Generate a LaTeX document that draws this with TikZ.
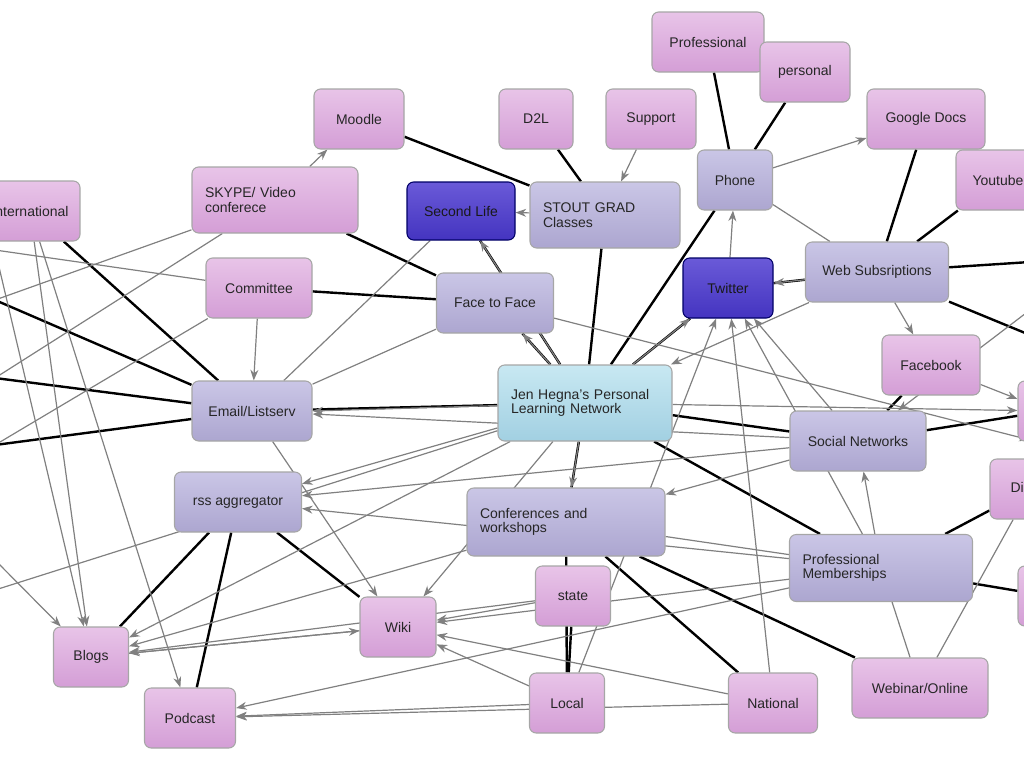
\documentclass[tikz,border=0pt]{standalone}
\usepackage{fontspec}
\setmainfont{Liberation Sans}
\usetikzlibrary{arrows.meta,backgrounds}
\definecolor{pkT}{HTML}{E8C4E8}\definecolor{pkB}{HTML}{D49ED6}
\definecolor{pvT}{HTML}{CAC6E6}\definecolor{pvB}{HTML}{ACA6D0}
\definecolor{dbT}{HTML}{6A5AD8}\definecolor{dbB}{HTML}{4434C0}
\definecolor{lbT}{HTML}{C8E8F2}\definecolor{lbB}{HTML}{A2D0E2}
\begin{document}
\begin{tikzpicture}[x=0.75pt,y=-0.75pt,
 bx/.style={rounded corners=5pt,draw=black!35,line width=0.8pt,font=\fontsize{10.5}{11}\selectfont,inner sep=3pt,text=black!85},
 sz/.style 2 args={minimum width=#1*0.75pt,minimum height=#2*0.75pt},
 pk/.style={bx,top color=pkT,bottom color=pkB},
 pv/.style={bx,top color=pvT,bottom color=pvB},
 db/.style={bx,top color=dbT,bottom color=dbB,draw=blue!40!black,text=black!90},
 lb/.style={bx,top color=lbT,bottom color=lbB},
 lt/.style={align=left,text width=#1*0.75pt},
 blk/.style={line width=1.8pt,black},
 ga/.style={gray,line width=0.9pt,-{Stealth[length=8pt,width=6pt]}},
 gl/.style={gray,line width=0.9pt}]
\useasboundingbox (0,0) rectangle (1024,768);
\clip (0,0) rectangle (1024,768);
\node[pk,sz={100}{60}] (intl) at (30,211) {International};
\node[pk,sz={90}{60}] (moodle) at (359,119) {Moodle};
\node[pk,sz={74}{60}] (d2l) at (536,119) {D2L};
\node[pk,sz={90}{60}] (support) at (651,119) {Support};
\node[pk,sz={112}{60}] (prof) at (708,42) {Professional};
\node[pk,sz={90}{60}] (pers) at (805,72) {personal};
\node[pk,sz={118}{60}] (gdocs) at (926,119) {Google Docs};
\node[pv,sz={75}{60}] (phone) at (735,180) {Phone};
\node[pk,sz={84}{60}] (yt) at (998,180) {Youtube};
\node[pk,sz={166}{66},lt=140] (skype) at (275,200) {SKYPE/ Video\\conferece};
\node[db,sz={108}{58}] (sl) at (461,211) {Second Life};
\node[pv,sz={150}{66},lt=124] (stout) at (605,215) {STOUT GRAD\\Classes};
\node[pk,sz={106}{60}] (comm) at (259,288) {Committee};
\node[pv,sz={117}{60}] (f2f) at (495,303) {Face to Face};
\node[db,sz={90}{60}] (tw) at (728,288) {Twitter};
\node[pv,sz={143}{60}] (web) at (877,272) {Web Subsriptions};
\node[pk,sz={98}{60}] (fb) at (931,365) {Facebook};
\node[lb,sz={174}{76},lt=148] (jen) at (585,403) {Jen Hegna's Personal\\Learning Network};
\node[pv,sz={120}{60}] (email) at (252,411) {Email/Listserv};
\node[pv,sz={136}{60}] (sn) at (858,441) {Social Networks};
\node[pk,sz={60}{60}] (r1) at (1048,411) {};
\node[pk,sz={80}{60}] (dig) at (1030,489) {Digital};
\node[pv,sz={127}{60}] (rss) at (238,502) {rss aggregator};
\node[pv,sz={198}{68},lt=172] (conf) at (566,522) {Conferences and\\workshops};
\node[pv,sz={183}{67},lt=157] (pm) at (881,568) {Professional\\Memberships};
\node[pk,sz={60}{60}] (r2) at (1048,596) {};
\node[pk,sz={75}{60}] (state) at (573,596) {state};
\node[pk,sz={76}{60}] (wiki) at (398,627) {Wiki};
\node[pk,sz={75}{60}] (blogs) at (91,657) {Blogs};
\node[pk,sz={91}{60}] (pod) at (190,718) {Podcast};
\node[pk,sz={75}{60}] (local) at (567,703) {Local};
\node[pk,sz={89}{60}] (nat) at (773,703) {National};
\node[pk,sz={136}{60}] (web2) at (920,688) {Webinar/Online};
\coordinate (L1) at (-5,300); \coordinate (L2) at (-5,378);
\coordinate (L3) at (-5,445); \coordinate (L4) at (-5,250);
\coordinate (L5) at (-5,560); \coordinate (L6) at (-5,590);
\coordinate (R1) at (1030,262); \coordinate (R2) at (1030,335);
\coordinate (R3) at (1030,310); \coordinate (R4) at (1030,440);
\begin{scope}[on background layer]
\draw[blk] (jen)--(f2f); \draw[blk] (jen)--(sl); \draw[blk] (jen)--(stout);
\draw[blk] (jen)--(tw); \draw[blk] (jen)--(phone); \draw[blk] (jen)--(email);
\draw[blk] (jen)--(sn); \draw[blk] (jen)--(conf); \draw[blk] (jen)--(pm);
\draw[blk] (skype)--(f2f); \draw[blk] (comm)--(f2f);
\draw[blk] (moodle)--(stout); \draw[blk] (d2l)--(stout);
\draw[blk] (prof)--(phone); \draw[blk] (pers)--(phone);
\draw[blk] (gdocs)--(web); \draw[blk] (yt)--(web); \draw[blk] (web)--(tw);
\draw[blk] (web)--(R1); \draw[blk] (web)--(R2);
\draw[blk] (sn)--(fb); \draw[blk] (sn)--(r1);
\draw[blk] (pm)--(dig); \draw[blk] (pm)--(r2);
\draw[blk] (conf)--(local); \draw[blk] (conf)--(nat); \draw[blk] (conf)--(web2);
\draw[blk] (rss)--(blogs); \draw[blk] (rss)--(pod); \draw[blk] (rss)--(wiki);
\draw[blk] (email)--(intl); \draw[blk] (email)--(L1); \draw[blk] (email)--(L2); \draw[blk] (email)--(L3);
\draw[blk] (state)--(local);
\draw[ga] (skype)--(moodle);
\draw[ga] (stout)--(sl);
\draw[ga] (phone)--(gdocs);
\draw[ga] (support)--(stout);
\draw[ga] (jen)--(email.east);
\draw[ga] (jen)--(rss);
\draw[ga] (jen)--(wiki);
\draw[ga] (jen)--(blogs);
\draw[ga] (tw)--(phone);
\draw[ga] (web)--(tw);
\draw[ga] (jen)--(tw);
\draw[ga] (sn)--(tw);
\draw[ga] (pm)--(tw);
\draw[ga] (nat)--(tw);
\draw[ga] (local)--(tw);
\draw[ga] (web)--(fb);
\draw[ga] (pm)--(sn);
\draw[ga] (jen)--(r1);
\draw[ga] (fb)--(r1);
\draw[ga] (blogs)--(wiki);
\draw[ga] (wiki)--(blogs);
\draw[ga] (state)--(wiki);
\draw[ga] (local)--(wiki);
\draw[ga] (nat)--(wiki);
\draw[ga] (local)--(pod);
\draw[ga] (nat)--(pod);
\draw[ga] (pm)--(pod);
\draw[ga] (pm)--(wiki);
\draw[ga] (conf)--(blogs);
\draw[ga] (state)--(blogs);
\draw[ga] (intl)--(blogs);
\draw[ga] (intl)--(pod);
\draw[ga] (comm)--(email);
\draw[ga] (email)--(wiki);
\draw[ga] (sn)--(email);
\draw[ga] (pm)--(rss);
\draw[ga] (sn)--(rss);
\draw[ga] (L4)--(blogs);
\draw[ga] (L5)--(blogs);
\draw[ga] (jen)--(f2f);
\draw[ga] (web)--(jen);
\draw[ga] (sn)--(conf);
\draw[ga] (jen)--(conf);
\draw[ga] (R3)--(sn);
\draw[ga] (f2f)--(R4);
\draw[ga] (jen)--(sl);
\draw[gl] (skype)--(L1); \draw[gl] (comm)--(L4); \draw[gl] (skype)--(L2);
\draw[gl] (phone)--(web); \draw[gl] (pm)--(web2); \draw[gl] (dig)--(web2);
\draw[gl] (jen)--(L6); \draw[gl] (conf)--(pm); \draw[gl] (comm)--(L3);
\draw[gl] (sl)--(email); \draw[gl] (f2f)--(email);
\end{scope}
\end{tikzpicture}
\end{document}
